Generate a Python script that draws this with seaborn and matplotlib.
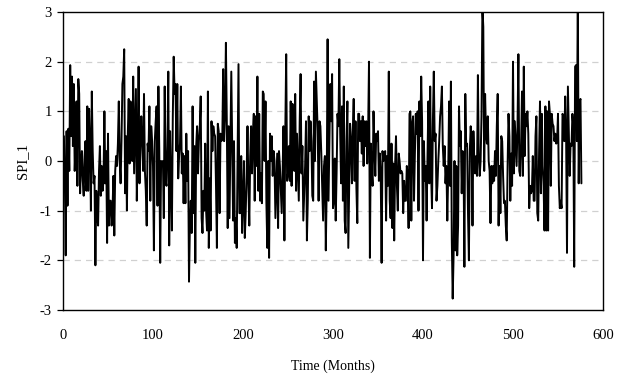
import matplotlib
matplotlib.use("Agg")
import matplotlib.pyplot as plt
import seaborn as sns
import pandas as pd

# ---- data (SPI_1, monthly values) ----
spi_block1 = [
    0.5, -0.3, -1.9, 0.6, -0.9, 0.65, -0.2, 1.93, 0.5, 1.7, 0.3, 1.55,
    -0.2, 0.35, 1.2, -0.5, 1.65, 1.35, -0.65, -0.1, 0.2, -0.4, -0.7, 0.1,
    0.4, -0.6, 1.1, -0.6, 1.05, 0.3, -1.0, 1.4, 0.2, -0.45, -0.3, -2.1,
    -0.6, -1.05, -1.3, -0.2, 0.3, -0.7, -0.1, -0.6, -0.4, 1.0, -0.45, 0.2,
    -1.65, 0.55, -1.3, -0.8, -0.8, -1.3, -1.0, -0.3, -1.5, -0.2, 0.1, -0.1,
    0.35, 1.2, 0.0, -0.45, 0.4, 1.55, 1.7, 2.25, -0.65, 0.5, -1.0, 0.55,
    1.25, -0.05, 1.2, 0.15, 0.0, 1.7, -0.25, 0.6, 1.45, -0.8, 0.3, 1.9,
    -0.45, 0.3, 0.9, 0.4, -0.2, 1.35, -0.2, -0.6, -1.3, 0.35, 0.2, 1.1,
    -0.8, 0.7, 0.4, -0.1, -1.8, 0.4, 0.8, 1.1, -0.9, 1.5, 0.2, -2.05,
    0.0, -0.1, 0.0, -1.15, 1.5, -0.4, -0.5, 0.3, 1.8, -1.7, 0.6, -0.5,
    -1.4, 0.9, 2.1, 1.35, 1.55, 0.2, 1.55, -0.35, 0.1, 0.35, 1.5, -0.25,
    0.15, -0.85, 0.1, -0.85, 0.55, -0.4, 0.2, -2.43, -1.3, -0.8, -1.45, 1.1,
]
spi_block2 = [
    -1.05, 0.3, -2.05, 0.3, 0.7, -0.25, 0.4, 0.7, 1.3, -1.15, -1.45, -0.6,
    -1.0, 0.35, -1.0, -1.4, 1.4, -1.75, -0.35, -1.4, 0.8, 0.2, 0.7, 0.55,
    0.5, -0.5, -1.75, 0.75, 0.6, -1.05, 0.55, 0.4, 0.45, 1.85, 0.4, 0.9,
    2.38, 0.8, -1.35, 0.7, -1.15, 0.35, 1.8, 0.35, -1.2, 0.4, -1.65, -1.15,
    -1.75, 0.2, 1.95, -1.05, -1.05, 0.1, -1.45, -0.8, 0.0, -1.55, -1.05, -0.3,
    0.7, -0.5, -1.3, 0.1, 0.7, -0.25, 0.55, 0.95, -0.8, 0.9, -0.1, 1.7,
    -0.6, 0.95, -0.8, -0.25, -0.85, 1.4, 1.35, 0.0, 1.2, -0.85, -1.75, 0.0,
    -1.95, 0.55, 0.0, 0.5, -0.3, 0.2, 0.0, -1.15, -0.5, 0.15, -1.35, 0.2,
    -0.1, -0.6, -1.05, -0.25, 0.7, -1.6, 0.6, 2.15, -0.4, -0.25, 0.3, -0.4,
    1.2, -0.5, 1.15, 0.3, -0.2, 1.35, -0.6, 0.55, -0.1, -0.8, 0.8, 1.75,
    -0.25, 0.3, -1.2, -0.65, -0.1, 0.8, -1.6, -0.8, 0.9, 0.2, 0.8, 0.4,
    -0.7, -0.8, 1.6, 0.0, 1.8, 1.2, 0.6, -0.8, 0.8, 0.7, 0.15, -0.55,
]
spi_block3 = [
    -1.2, -0.1, 0.1, -1.8, -0.55, 2.45, -0.8, 0.35, 1.55, 0.8, 1.75, -0.95,
    -0.8, 0.05, -1.2, -0.25, 0.95, 0.7, 2.05, 0.55, -0.45, 1.1, -0.8, 1.5,
    -1.2, -1.45, 0.4, 1.2, -1.75, -0.55, 0.75, 0.4, -0.45, 0.6, 1.25, -0.4,
    0.8, -0.55, -1.25, 0.95, 0.95, 0.4, 0.8, 0.15, 0.9, -0.1, 0.8, 0.3,
    0.8, -0.05, 0.55, 2.0, -1.95, 0.35, -0.2, -0.5, 1.0, 0.3, -0.3, 0.55,
    0.4, 0.6, -0.4, 0.15, -0.25, -2.05, 0.2, 0.0, 0.15, 0.2, -1.2, 0.1,
    -0.5, 1.8, -0.8, -1.15, 0.35, -1.35, -0.05, -1.6, -0.1, 0.5, -0.5, -1.0,
    0.15, 0.0, -0.25, -0.2, -0.25, -1.05, -0.4, -0.8, -0.8, -0.1, -0.3, -1.35,
    0.95, 1.0, -1.2, 0.75, 0.9, -0.8, 0.15, 0.95, 0.55, 1.0, -1.0, 1.2,
    0.5, 1.7, 0.8, -2.0, 0.4, -0.4, -0.1, -1.2, 0.1, 1.2, -0.45, 1.5,
    -0.25, -0.95, 0.8, 1.8, 0.4, 0.55, -0.8, -0.5, 0.0, 0.4, 0.9, 1.1,
    1.5, 0.3, -0.1, 0.3, -0.45, -0.1, -1.2, -0.25, 1.2, -0.5, 1.6, -1.6,
]
spi_block4 = [
    -2.77, -1.9, 0.0, -1.8, -0.1, -1.9, -1.3, 1.1, 0.3, 0.6, -0.65, 0.2,
    0.1, -2.13, 1.35, 0.3, 0.35, -1.05, -2.0, 0.2, 0.7, 0.35, -1.3, 0.6,
    0.0, -0.25, 0.1, -0.3, 1.73, 0.1, -0.3, 0.0, 0.9, 3.1, 2.7, -0.2,
    1.35, 0.55, 0.35, 0.9, 0.0, -0.2, -1.25, -0.1, -0.45, -0.1, -0.4, 0.2,
    -0.3, 0.7, 1.35, -1.3, -0.1, -1.05, 0.5, 0.4, -0.3, -0.85, -0.8, -1.3,
    -1.6, -0.1, 0.95, 0.5, -0.8, 0.15, -0.5, 2.0, -0.25, 0.8, 0.35, -0.1,
    0.7, 2.15, -0.2, -0.3, 0.35, 1.4, -0.3, 1.9, 0.1, 0.95, 0.7, 1.0,
    0.55, -0.95, -0.5, -0.65, -0.6, 0.1, -0.8, -0.8, 0.5, 0.9, -1.05, -1.2,
    0.2, 1.2, -0.65, 0.95, -0.1, -0.5, -1.4, 1.1, -1.4, 1.0, -1.4, 1.2,
    0.95, -0.5, 0.95, 0.75, 0.7, 0.4, 0.55, 0.35, 0.4, 0.95, -0.5, -0.95,
    -0.8, -0.95, 0.95, 0.9, 0.4, 1.3, 0.55, -1.85, 1.5, 0.55, -0.3, 0.35,
    0.3, 0.95, 0.7, -2.13, 1.9, 1.93, 0.4, 3.3, -0.45, 1.2, 1.25, -0.45,
]
x_ticks = [0, 100, 200, 300, 400, 500, 600]
y_ticks = [-3, -2, -1, 0, 1, 2, 3]
grid_levels = [-2, -1, 0, 1, 2]
x_label = "Time (Months)"
y_label = "SPI_1"

spi = spi_block1 + spi_block2 + spi_block3 + spi_block4
df = pd.DataFrame({"month": list(range(1, len(spi) + 1)), "spi": spi})

sns.set_theme(style="white")
plt.rcParams["font.family"] = ["Liberation Serif", "DejaVu Serif"]

fig = plt.figure(figsize=(6.18, 3.83), dpi=100)
ax = fig.add_axes([63 / 618, 1 - 310 / 383, 540 / 618, 298 / 383])

for g in grid_levels:
    ax.axhline(g, color="#d0d0d0", lw=0.9, ls=(0, (5, 4)), zorder=0)

sns.lineplot(data=df, x="month", y="spi", color="black", linewidth=1.4, ax=ax)

ax.set_xlim(0, 600)
ax.set_ylim(-3, 3)
ax.set_xticks(x_ticks)
ax.set_yticks(y_ticks)
ax.set_xticklabels([str(t) for t in x_ticks], fontsize=10.5)
ax.set_yticklabels([str(t) for t in y_ticks], fontsize=10.5)
ax.tick_params(axis="x", length=0, pad=14, colors="black")
ax.tick_params(axis="y", length=4, width=0.9, direction="out", pad=4, colors="black", left=True)
ax.set_xlabel(x_label, fontsize=10, labelpad=12, color="black")
ax.set_ylabel(y_label, fontsize=10.5, labelpad=8, color="black")
for s in ax.spines.values():
    s.set_color("black")
    s.set_linewidth(1.0)
ax.grid(False)

fig.savefig("out.png", dpi=100)
